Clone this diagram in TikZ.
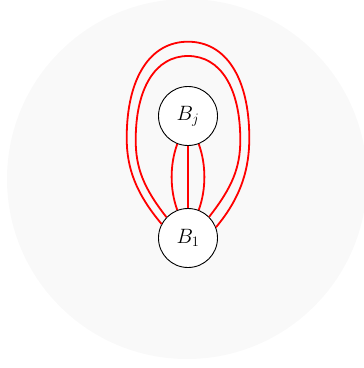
\documentclass[tikz,border=0pt]{standalone}
\definecolor{bgpale}{RGB}{249,249,249}
\tikzset{
  vtx/.style={circle, draw=black, line width=0.9pt, fill=white, minimum size=59pt, inner sep=0pt, font=\fontsize{21.5}{25}\selectfont},
  redge/.style={draw=red, line width=1.8pt},
}
\begin{document}
\begin{tikzpicture}[x=1pt,y=-1pt]
\useasboundingbox (0,0) rectangle (364,368);
\fill[bgpale] (187,179) circle[radius=180];
\node[vtx] (Bj) at (188,116) {$B_j$};
\node[vtx] (B1) at (188,238) {$B_1$};
% outer loop waypoints
\coordinate (oL) at (126.7,138);
\coordinate (oT) at (188,41.7);
\coordinate (oR) at (249.3,138);
% inner loop waypoints
\coordinate (iL) at (135.7,140);
\coordinate (iT) at (188,56);
\coordinate (iR) at (240.3,140);
\draw[redge] (B1.152) .. controls +(-130:40) and +(0,30) .. (oL)
  .. controls +(0,-60) and +(-38,0) .. (oT)
  .. controls +(38,0) and +(0,-60) .. (oR)
  .. controls +(0,30) and +(-50:40) .. (B1.21);
\draw[redge] (B1.136) .. controls +(-128:37) and +(0,28) .. (iL)
  .. controls +(0,-52) and +(-32.5,0) .. (iT)
  .. controls +(32.5,0) and +(0,-52) .. (iR)
  .. controls +(0,28) and +(-52:37) .. (B1.45);
\draw[redge] (Bj.south) -- (B1.north);
\draw[redge] (Bj.-111) .. controls +(110:22) and +(-110:22) .. (B1.111);
\draw[redge] (Bj.-69) .. controls +(70:22) and +(-70:22) .. (B1.69);
\end{tikzpicture}
\end{document}
